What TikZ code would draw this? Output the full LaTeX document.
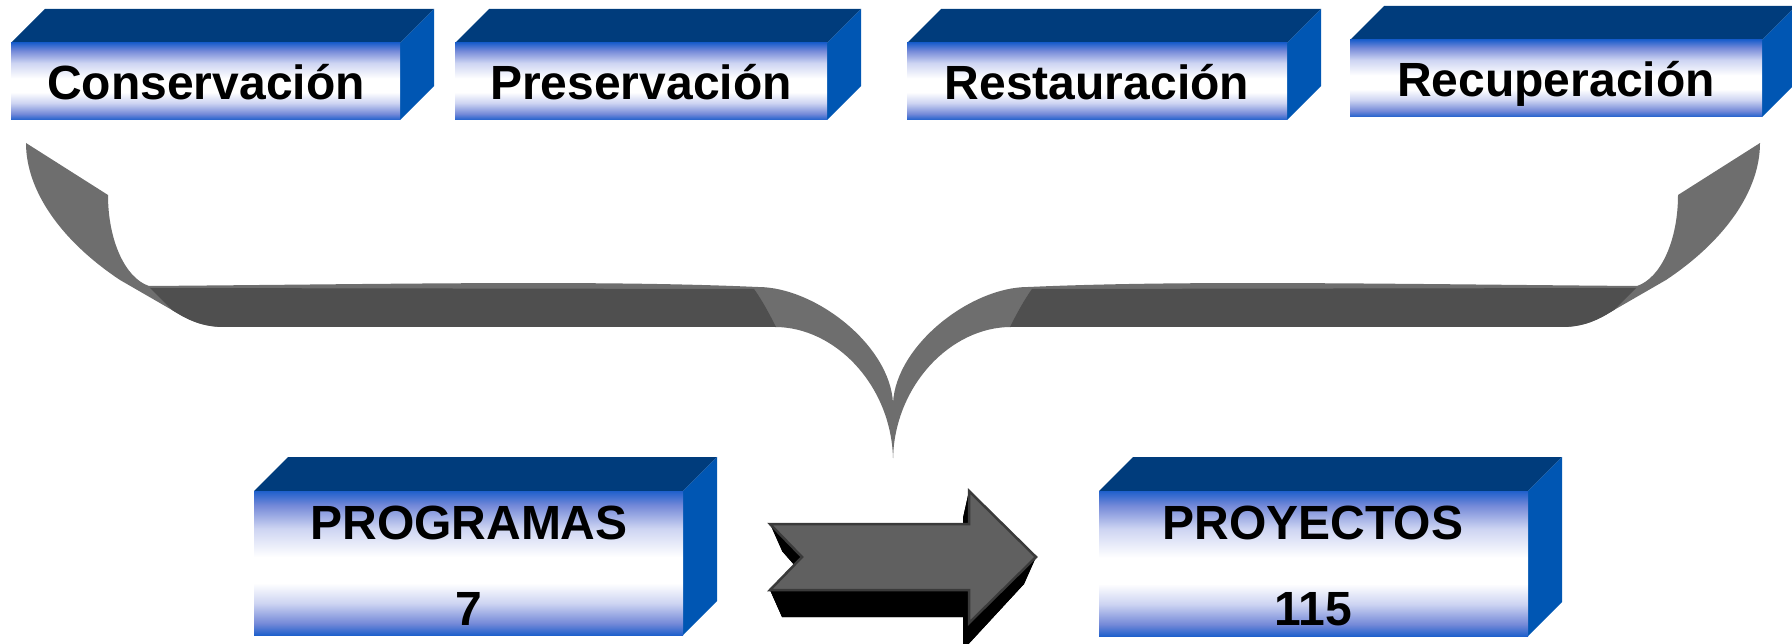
\documentclass[tikz,border=0pt]{standalone}
\usepackage{fontspec}
\setmainfont{Liberation Sans}
\definecolor{topface}{HTML}{003C7C}
\definecolor{sideface}{HTML}{0056B3}
\definecolor{frontblue}{HTML}{1F60CC}
\definecolor{frontpale}{HTML}{7489D8}
\definecolor{frontlight}{HTML}{CDD4F2}
\definecolor{ribbonlight}{HTML}{6E6E6E}
\definecolor{ribbondark}{HTML}{4F4F4F}
\definecolor{arrowface}{HTML}{606060}
\definecolor{arrowedge}{HTML}{3A3A3A}
\pgfdeclareverticalshading{frontgrad}{100bp}{color(0bp)=(frontblue); color(25bp)=(frontblue); color(29bp)=(frontpale); color(36bp)=(frontlight); color(43bp)=(white); color(52bp)=(white); color(62bp)=(frontlight); color(70bp)=(frontpale); color(75bp)=(frontblue); color(100bp)=(frontblue)}
\newcommand{\cubebox}[5]{%
  \fill[topface] (#1,#2) -- (#1+#5,#2-#5) -- (#3+#5,#2-#5) -- (#3,#2) -- cycle;
  \fill[sideface] (#3,#2) -- (#3+#5,#2-#5) -- (#3+#5,#4-#5) -- (#3,#4) -- cycle;
  \shade[shading=frontgrad] (#1,#2) rectangle (#3,#4);
}
\tikzset{
  lbl/.style={font=\bfseries\fontsize{48}{56}\selectfont, text=black, inner sep=0pt, anchor=base},
}
\begin{document}
\begin{tikzpicture}[x=1pt,y=-1pt]
\useasboundingbox (0,0) rectangle (1792,644);
% top boxes
\cubebox{11}{43}{400}{120}{34}
\cubebox{455}{43}{827}{120}{34}
\cubebox{907}{43}{1287}{120}{34}
\cubebox{1350}{40}{1762}{117}{34}
\node[lbl] (cons) at (206,100) {Conservación};
\node[lbl] (pres) at (641,100) {Preservación};
\node[lbl] (rest) at (1097,100) {Restauración};
\node[lbl] (recu) at (1556,97) {Recuperación};
% bottom boxes
\cubebox{254}{491}{683}{635}{34}
\cubebox{1099}{491}{1528}{636}{34}
\node[lbl] (prog) at (469,539) {PROGRAMAS};
\node[lbl] (progn) at (469,625) {7};
\node[lbl] (proy) at (1313,539) {PROYECTOS};
\node[lbl] (proyn) at (1313,625) {115};
% brace (left half and mirrored right half)
\foreach \s in {1,-1}{
  \begin{scope}[shift={({893*(1-\s)},0)}, xscale=\s]
    \fill[ribbonlight] (26,143) -- (108,195) .. controls (108,240) and (125,278) .. (149,286)
      .. controls (400,284) and (600,280) .. (758,287)
      .. controls (815,287) and (890,345) .. (893,403)
      -- (893,458) .. controls (891,385) and (835,327) .. (775,327)
      -- (224,327) .. controls (200,327) and (185,318) .. (172,310)
      -- (120,280) .. controls (60,240) and (26,190) .. (26,143) -- cycle;
    \fill[ribbondark] (150,288) -- (754,289) .. controls (762,300) and (770,315) .. (776,327)
      -- (224,327) .. controls (200,327) and (185,318) .. (172,310) -- cycle;
  \end{scope}
}
% arrow: extrusion
\fill[black] (770,524) -- (969,524) -- (969,491) -- (1036,557) -- (969,623) -- (969,590) -- (770,590) -- (802,557) -- cycle;
\fill[black] (782,551) -- (963,551) -- (963,518) -- (1024,584) -- (963,650) -- (963,617) -- (782,617) -- (811,584) -- cycle;
\fill[black] (770,524) -- (802,557) -- (811,584) -- (782,551) -- cycle;
\fill[black] (802,557) -- (770,590) -- (782,617) -- (811,584) -- cycle;
\fill[black] (770,590) -- (969,590) -- (963,617) -- (782,617) -- cycle;
\fill[black] (969,590) -- (969,623) -- (963,650) -- (963,617) -- cycle;
\fill[black] (969,623) -- (1036,557) -- (1024,584) -- (963,650) -- cycle;
\fill[black] (969,491) -- (1036,557) -- (1024,584) -- (963,518) -- cycle;
\fill[black] (969,524) -- (969,491) -- (963,518) -- (963,551) -- cycle;
% arrow: face
\filldraw[fill=arrowface, draw=arrowedge, line width=2.5pt, line join=miter]
  (770,524) -- (969,524) -- (969,491) -- (1036,557) -- (969,623) -- (969,590) -- (770,590) -- (802,557) -- cycle;
\end{tikzpicture}
\end{document}
